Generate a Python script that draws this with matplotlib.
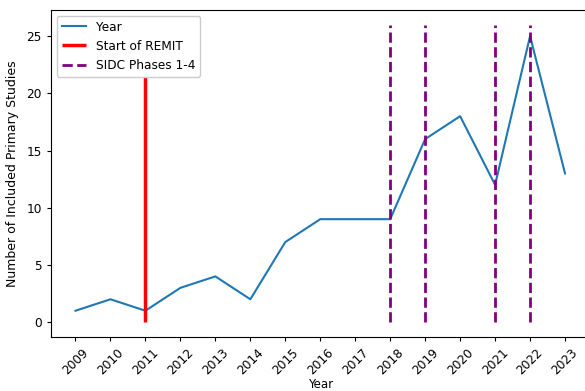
import matplotlib
matplotlib.use("Agg")
import matplotlib.pyplot as plt

years = [2009, 2010, 2011, 2012, 2013, 2014, 2015, 2016, 2017, 2018, 2019, 2020, 2021, 2022, 2023]
studies = [1, 2, 1, 3, 4, 2, 7, 9, 9, 9, 16, 18, 12, 25, 13]
remit_year = 2011
sidc_years = [2018, 2019, 2021, 2022]
line_top = 26

plt.rcParams["font.size"] = 9
plt.rcParams["xtick.major.size"] = 3
plt.rcParams["ytick.major.size"] = 3

fig = plt.figure(figsize=(5.85, 3.91), dpi=100)
ax = fig.add_axes([0.0872, 0.138, 0.9205, 0.837])
ax.plot(years, studies, label="Year")
ax.vlines(remit_year, 0, line_top, colors="red", linewidth=2.5, label="Start of REMIT")
ax.vlines(sidc_years, 0, line_top, colors="purple", linestyles="--", linewidth=2,
          label="SIDC Phases 1-4")
ax.set_xticks(years)
ax.set_xticklabels([str(y) for y in years], rotation=45)
ax.tick_params(labelsize=8.7)
ax.set_xlabel("Year", fontsize=8.5)
ax.xaxis.set_label_coords(0.5, -0.126)
ax.set_ylabel("Number of Included Primary Studies", fontsize=9)
ax.yaxis.set_label_coords(-0.059, 0.5)
ax.legend(loc="upper left", fontsize=8.7, framealpha=1)
fig.savefig("out.png", dpi=100)
